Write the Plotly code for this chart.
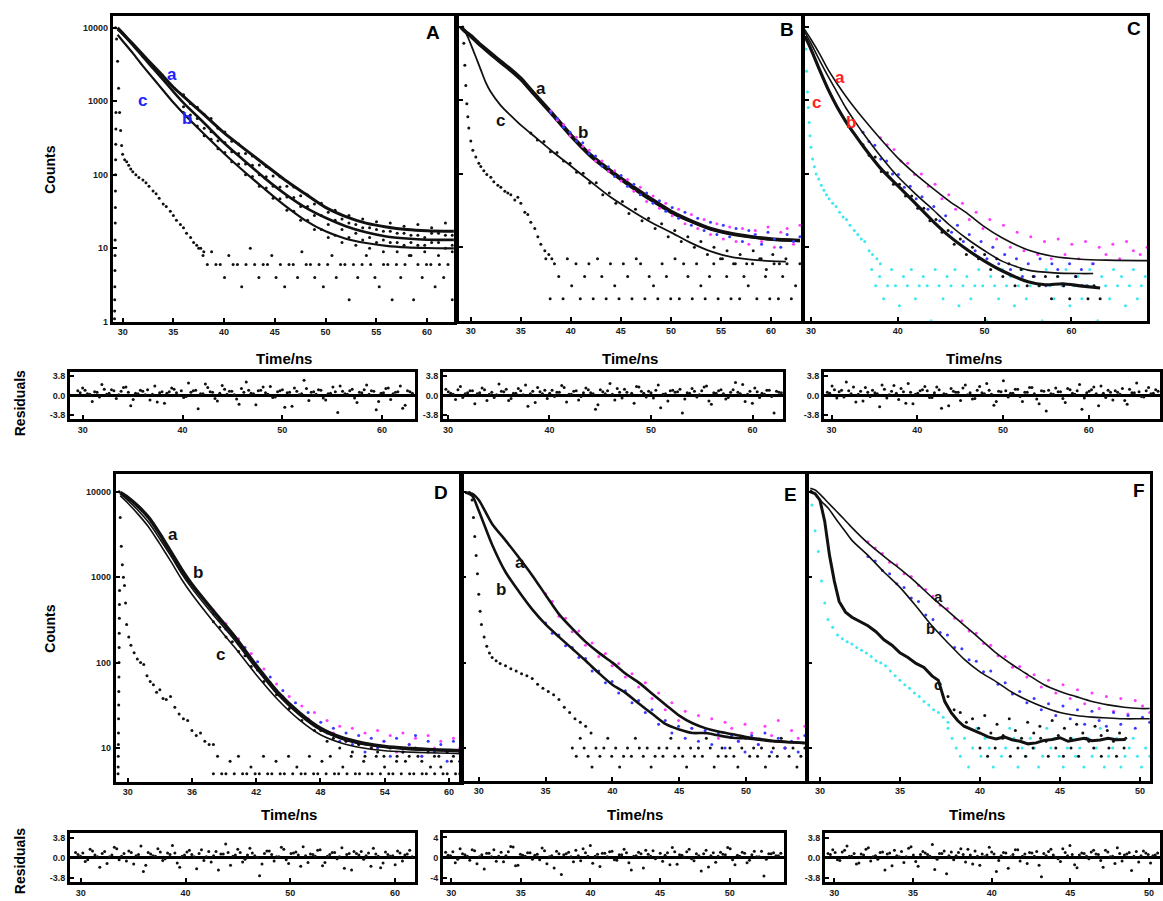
import numpy as np
import plotly.graph_objects as go

W, H = 1163, 901
FONT = "Liberation Sans, Arial, sans-serif"
MAGENTA = "#ff3cff"
BLUE = "#3a3aff"
CYAN = "#3ee8f2"
BLACK = "#111111"

# ---------------- Panel A ----------------
fitA_t = [29.5, 30, 31, 32, 33, 34, 35, 36, 38, 40, 42, 44, 46, 48, 50, 52, 54, 56, 58, 60, 62.7]
fitA_a = [10000, 8430, 6030, 4270, 3050, 2190, 1550, 1160, 660, 370, 225, 138, 85, 55, 36, 27, 22, 19.5, 18, 17.3, 17]
fitA_b = [9500, 8200, 5800, 4000, 2800, 1950, 1350, 950, 510, 270, 155, 90, 55, 36, 26, 20, 16.5, 14.5, 13.6, 13.1, 13]
fitA_c = [8000, 6600, 4500, 3000, 2050, 1400, 960, 680, 360, 195, 110, 64, 38, 24, 17, 13.5, 11.8, 10.8, 10.3, 10.1, 10]
dataA_a = [1220, 930, 830, 660, 580, 430, 380, 285, 262, 195, 180, 136, 130, 96, 94, 70, 68, 52, 53, 40,
           41, 31, 33, 25, 28, 21, 25, 19, 23, 17, 22, 16, 20, 15, 21, 14, 19, 16, 22, 15]
dataA_b = [840, 650, 580, 430, 385, 290, 275, 205, 195, 140, 135, 100, 94, 70, 68, 50, 49, 37, 37, 28,
           28, 21, 24, 18, 22, 16, 19, 14, 18, 13, 17, 12, 16, 12, 15, 11, 16, 12, 15, 11]
dataA_c = [700, 520, 460, 340, 305, 225, 200, 150, 140, 100, 95, 70, 66, 48, 47, 33, 32, 24, 24, 18,
           18, 14, 15, 12, 14, 11, 13, 10, 12, 9, 12, 9, 11, 8, 11, 9, 12, 8, 10, 9]
irfA_t = [29.3, 29.4, 29.5, 29.6, 29.7, 29.8, 29.9, 30.0, 30.2, 30.4, 30.6, 30.8, 31.0, 31.3, 31.6, 32.0, 32.3,
          32.6, 33.0, 33.3, 33.6, 34.0, 34.3, 34.7, 35.0, 35.3, 35.7, 36.0, 36.3, 36.7, 37.0, 37.3, 37.7, 38.0]
irfA_c = [10000, 7000, 3500, 1500, 700, 400, 250, 190, 160, 150, 135, 120, 110, 100, 92, 85, 78,
          70, 60, 55, 48, 40, 37, 32, 28, 24, 21, 19, 16, 14, 12, 11, 10, 9]
edgeA_t = [29.20, 29.21, 29.22, 29.23, 29.24, 29.25, 29.26, 29.27, 29.28, 29.29, 29.30, 29.31, 29.32, 29.33, 29.34]
edgeA_c = [1.1, 1.4, 2, 3, 5, 8, 13, 22, 36, 60, 100, 160, 260, 420, 700]
floorA = [10, 8, 6, 9, 6, 6, 4, 8, 6, 6, 3, 6, 10, 6, 4, 6, 6, 8, 4, 6, 3, 6, 6, 4, 9, 6, 6, 4, 6, 3,
          6, 8, 4, 6, 6, 2, 6, 4, 6, 8, 6, 4, 3, 6, 6, 2, 6, 4, 6, 8, 2, 6, 4, 6, 6, 3, 6, 4, 6, 2]
resA = [0.9, 1.4, 0.3, -1.2, 0.6, 2.1, 0.2, 1.1, -0.6, 0.8, 1.6, -2.0, 0.4, 1.0, 0.1, -0.9, 1.8, 0.5, -1.5, 0.7,
        1.2, 0.0, -0.4, 2.4, 0.9, -2.6, 0.3, 1.5, 0.6, -1.1, 1.9, 0.2, 0.8, -0.7, 1.3, 2.6, 0.4, -1.8, 1.0, 0.5,
        1.7, -0.3, 0.9, -2.3, 0.6, 1.4, 0.1, 2.9, -1.0, 0.7, 1.1, -0.5, 0.3, 1.6, -3.3, 0.8, 0.2, 1.2, -1.4, 0.5,
        2.0, 0.9, -2.8, 0.4, 1.3, -0.8, 0.6, 1.8, -1.9, 0.7]
resA2 = [0.5, 1.0, 0.2, 0.7, -0.3, 1.2, 0.4, 0.9, 0.1, 1.5, 0.6, -0.8, 0.3, 0.8, 1.1, 0.2, -1.3, 0.7, 0.4, 1.4,
         0.5, 0.9, -0.2, 0.6, 1.0, 0.3, 2.2, 0.7, -0.6, 0.4, 1.2, 0.8, 0.1, -1.7, 0.6, 1.0, 0.3, 0.9, 1.6, 0.2,
         -0.4, 0.7, 1.1, 0.5, -2.1, 0.8, 0.3, 1.3, 0.6, 0.2, 1.0, -0.9, 0.4, 0.7, 1.8, 0.3, 0.9, -0.5, 0.6, 1.1,
         0.2, 0.8, -1.2, 0.5, 1.4, 0.3, 0.7, -2.5, 0.9, 0.4]

# ---------------- Panel B ----------------
fitB_t = [29.0, 29.5, 30, 31, 32, 33, 34, 35, 36, 38, 40, 42, 44, 46, 48, 50, 52, 54, 56, 58, 60, 62.9]
fitB_a = [10000, 8600, 7600, 5700, 4400, 3400, 2650, 2000, 1400, 700, 340, 180, 110, 70, 46, 31, 23, 18, 15.5, 14, 13, 12.4]
fitB_b = [9800, 8400, 7400, 5500, 4200, 3250, 2530, 1910, 1340, 670, 325, 172, 105, 67, 44, 30, 22.5, 17.6, 15.2, 13.8, 12.9, 12.3]
fitB_c_t = [29.0, 29.5, 30, 30.5, 31, 31.5, 32, 33, 34, 35, 36, 38, 40, 42, 44, 46, 48, 50, 52, 54, 56, 58, 60, 61.5]
fitB_c = [10000, 8300, 5800, 3900, 2600, 1750, 1300, 850, 620, 460, 355, 210, 128, 78, 48, 32, 22, 16, 11.5, 8.8, 7.4, 6.8, 6.5, 6.4]
dataB_a = [720, 540, 470, 330, 315, 235, 210, 150, 150, 108, 110, 80, 84, 58, 66, 42, 50, 34, 40, 27,
           33, 21, 28, 18, 24, 15, 21, 13, 19, 12, 18, 11, 17, 12, 19, 10, 16, 18, 11, 20]
dataB_b = [680, 570, 430, 370, 280, 265, 190, 175, 128, 125, 92, 95, 68, 72, 52, 55, 40, 43, 31, 35,
           25, 30, 20, 25, 17, 22, 15, 20, 14, 18, 12, 17, 15, 11, 16, 13, 10, 15, 12, 14]
dataB_c = [360, 290, 275, 200, 195, 150, 140, 105, 102, 75, 76, 52, 55, 40, 42, 29, 33, 23, 25, 18,
           21, 14, 17, 12, 14, 10, 12, 8, 10, 7, 9, 6, 8, 6, 9, 7, 5, 8, 6, 7]
irfB_t = [29.2, 29.3, 29.4, 29.5, 29.6, 29.7, 29.8, 30.0, 30.2, 30.5, 30.8, 31.0, 31.3, 31.6, 32.0, 32.3, 32.7,
          33.0, 33.4, 33.7, 34.0, 34.4, 34.7, 35.0, 35.4, 35.7, 36.0, 36.4, 36.7, 37.0, 37.4, 37.8, 38.1]
irfB_c = [10000, 6000, 3000, 1600, 900, 600, 420, 280, 210, 170, 140, 126, 110, 98, 90, 78, 70,
          66, 58, 55, 52, 44, 48, 40, 30, 28, 22, 18, 14, 11, 9, 8, 7]
floorB = [7, 2, 6, 4, 2, 7, 3, 6, 2, 4, 6, 2, 7, 4, 2, 6, 3, 2, 6, 4, 2, 7, 6, 2, 4, 3, 2, 6, 4, 2,
          7, 2, 6, 4, 2, 6, 3, 2, 4, 6, 2, 7, 4, 2, 6, 2, 4, 3, 6, 2, 7, 4, 2, 6, 2, 4, 6, 2, 3, 6]
resB = [1.2, 0.4, -0.8, 1.7, 0.3, 0.9, -1.6, 0.5, 1.1, 0.2, -0.4, 2.2, 0.7, -1.0, 0.4, 1.3, 0.1, -2.1, 0.8, 1.5,
        0.3, -0.6, 1.0, 0.6, 1.9, -1.3, 0.2, 0.9, -0.2, 1.4, 0.5, -2.7, 1.1, 0.3, 2.3, -0.9, 0.6, 1.2, 0.0, -1.5,
        1.6, 0.4, 0.8, -0.5, 2.0, 0.2, -1.1, 1.0, 0.7, -3.4, 0.5, 1.3, -0.3, 0.9, 1.8, -1.7, 0.4, 1.1, -0.7, 0.6,
        2.5, 0.3, -1.2, 0.8, 1.4, -0.4, 0.2, 1.0, -3.4, 0.6]
resB2 = [0.7, 0.2, 1.1, -0.4, 0.5, 0.9, 0.3, 1.4, -1.0, 0.6, 0.1, 0.8, 1.2, -0.6, 0.4, 0.9, 2.0, 0.3, -1.4, 0.7,
         1.0, 0.4, -0.2, 0.6, 1.5, 0.2, 0.8, -0.9, 0.5, 1.1, 0.3, -1.8, 0.7, 0.9, 0.2, 1.3, -0.5, 0.6, 0.4, 1.7,
         0.8, -0.3, 0.5, 1.0, -2.4, 0.3, 0.9, 0.6, 1.2, -0.7, 0.4, 0.8, 0.1, 1.6, -1.1, 0.5, 0.9, 0.3, -0.4, 1.1,
         0.6, 2.1, 0.2, -1.5, 0.7, 0.4, 1.0, -0.2, 0.8, 0.5]

# ---------------- Panel C ----------------
fitC_t = [29.3, 30, 31, 32, 33, 34, 35, 36, 38, 40, 42, 44, 46, 48, 50, 52, 55, 58, 61, 64, 68.7]
fitC_a = [9100, 6800, 4300, 2600, 1700, 1150, 800, 570, 300, 165, 100, 64, 42, 29, 19, 13.5, 9.2, 7.5, 6.9, 6.7, 6.6]
fitC_b_t = [29.3, 30, 31, 32, 33, 34, 35, 36, 38, 40, 42, 44, 46, 48, 50, 52, 55, 58, 61, 62.5]
fitC_b = [8500, 6000, 3500, 2100, 1300, 800, 530, 360, 175, 92, 54, 33, 20, 13, 9, 6.5, 4.9, 4.5, 4.4, 4.4]
fitC_c_t = [29.3, 30, 31, 32, 33, 34, 35, 36, 38, 40, 42, 44, 46, 48, 50, 52, 55, 57, 59, 61, 63.3]
fitC_c = [7500, 5000, 2600, 1400, 820, 520, 350, 240, 120, 69, 40, 23, 14, 9.3, 6.5, 4.8, 3.4, 3.1, 3.2, 3.0, 2.8]
dataC_a = [310, 250, 215, 150, 140, 98, 100, 68, 72, 46, 52, 33, 40, 24, 30, 18, 24, 13, 20, 10,
           16, 9, 14, 8, 12, 7, 13, 8, 11, 7, 12, 6, 10, 8, 11, 7, 12, 9, 8, 10]
dataC_b = [370, 275, 245, 160, 150, 100, 98, 66, 68, 46, 49, 33, 36, 23, 27, 16, 20, 12, 15, 9,
           12, 7, 10, 6, 8, 5, 7, 4, 6, 4, 7, 3, 6, 5, 3, 6, 4, 5, 3, 6]
dataC_c = [250, 180, 170, 108, 104, 72, 72, 50, 50, 34, 34, 23, 24, 16, 17, 11, 13, 8, 10, 7,
           8, 5, 7, 4, 6, 3, 5, 3, 4, 3, 4, 2, 4, 3, 2, 4, 3, 2, 3, 2]
irfC_t = [29.3, 29.4, 29.5, 29.6, 29.7, 29.8, 29.9, 30.0, 30.2, 30.4, 30.6, 30.9, 31.2, 31.5, 31.8,
          32.1, 32.5, 32.9, 33.3, 33.7, 34.1, 34.5, 35.0, 35.4, 35.8, 36.2, 36.7, 37.1, 37.6, 38.0]
irfC_c = [9000, 5000, 2500, 1300, 800, 500, 330, 230, 160, 125, 100, 85, 70, 60, 52,
          46, 40, 36, 30, 26, 24, 20, 17, 15, 13, 12, 9, 8, 7, 6]
floorC = [5, 3, 4, 2, 3, 5, 3, 1.6, 4, 3, 5, 2, 3, 4, 3, 1, 5, 3, 2, 4, 3, 5, 1.6, 3, 4, 2, 3, 5, 3, 1,
          4, 3, 2, 5, 3, 4, 1.6, 3, 5, 2, 3, 4, 3, 1, 5, 3, 2, 4, 3, 5, 1.6, 3, 4, 2, 3, 5, 3, 1, 4, 3,
          2, 5, 3, 4, 1.6, 3, 5, 2, 3, 4]
resC = [0.6, 1.8, -0.5, 1.0, 2.6, 0.3, -1.3, 0.8, 1.5, -0.2, 0.5, -2.2, 1.2, 0.1, 1.9, -0.8, 0.7, 2.3, -1.6, 0.4,
        1.1, 0.9, -0.4, 1.6, -2.5, 0.2, 1.3, 0.6, -1.0, 2.0, 0.5, -0.6, 1.7, 0.3, 1.0, -1.9, 0.8, 2.8, -0.3, 0.4,
        1.2, -1.2, 0.6, 1.5, -0.7, 0.9, -3.0, 0.3, 1.4, 0.7, -1.4, 1.1, 0.2, 2.1, -0.5, 0.8, 1.6, -2.0, 0.4, 1.0,
        -0.9, 0.6, 1.3, -1.7, 0.5, 2.4, -0.2, 0.9, 0.3, 1.1]
resC2 = [0.4, 1.1, 0.7, -0.3, 0.9, 1.6, 0.2, -1.1, 0.6, 1.0, 0.3, 2.0, -0.5, 0.8, 0.4, 1.3, -1.5, 0.6, 0.2, 0.9,
         1.7, -0.4, 0.5, 1.1, 0.3, -2.0, 0.8, 0.6, 1.4, 0.1, -0.7, 1.0, 0.5, 2.3, 0.2, -1.2, 0.7, 0.9, 0.4, 1.2,
         -0.2, 0.6, 1.5, 0.3, -1.6, 0.8, 1.0, 0.2, 0.7, -0.6, 1.3, 0.4, 0.9, -2.7, 0.5, 1.1, 0.3, 1.8, -0.4, 0.6,
         0.9, 0.2, -1.0, 1.2, 0.5, 0.7, -0.3, 1.5, 0.4, 0.8]

# ---------------- Panel D ----------------
fitD_t = [29.3, 30, 31, 32, 33, 34, 35, 36, 38, 40, 42, 44, 46, 48, 50, 52, 54, 56, 58, 60, 61.1]
fitD_a = [9800, 8600, 6700, 4900, 3200, 2000, 1250, 820, 400, 200, 92, 45, 26, 17, 13.2, 11.4, 10.4, 9.9, 9.6, 9.4, 9.3]
fitD_b = [9500, 8000, 6000, 4300, 2800, 1800, 1120, 740, 360, 182, 85, 42, 24.5, 16.2, 12.7, 11, 10.2, 9.7, 9.5, 9.3, 9.2]
fitD_c = [9000, 7400, 5400, 3800, 2450, 1550, 960, 630, 300, 150, 72, 37, 21.5, 14.3, 11.4, 10, 9.3, 9.0, 8.8, 8.7, 8.6]
dataD_a = [410, 320, 285, 210, 190, 138, 128, 88, 84, 58, 56, 40, 40, 28, 31, 22, 26, 17, 21, 15,
           18, 12, 17, 11, 15, 10, 16, 12, 14, 9, 15, 11, 13, 8, 14, 10, 12, 9, 13, 10]
dataD_b = [370, 310, 245, 215, 165, 150, 108, 102, 70, 68, 47, 47, 33, 34, 24, 26, 19, 20, 15, 17,
           12, 15, 11, 14, 9, 13, 10, 12, 8, 13, 9, 11, 14, 8, 12, 9, 11, 7, 12, 9]
dataD_c = [300, 260, 200, 175, 135, 120, 90, 82, 60, 56, 42, 39, 29, 28, 21, 21, 16, 16, 12, 13,
           10, 12, 9, 11, 8, 10, 9, 8, 10, 7, 9, 8, 10, 7, 9, 8, 6, 9, 8, 7]
irfD_t = [29.2, 29.3, 29.4, 29.5, 29.6, 29.7, 29.8, 29.9, 30.1, 30.3, 30.6, 30.9, 31.2, 31.5, 31.8, 32.1,
          32.4, 32.7, 33.0, 33.3, 33.6, 34.0, 34.4, 34.8, 35.2, 35.6, 36.0, 36.4, 36.8, 37.2, 37.6, 38.0]
irfD_c = [10000, 5000, 2300, 1400, 1000, 800, 500, 280, 200, 160, 130, 110, 100, 95, 70, 60,
          55, 45, 48, 38, 37, 40, 30, 25, 22, 21, 16, 14, 15, 12, 11, 11]
edgeD_t = [29.10, 29.11, 29.12, 29.13, 29.14, 29.15, 29.16, 29.17, 29.18, 29.19, 29.20, 29.21, 29.22, 29.23, 29.24]
edgeD_c = [5, 6, 8, 11, 15, 22, 32, 46, 68, 100, 150, 220, 330, 480, 700]
floorD = [5, 8, 5, 5, 7, 5, 8, 5, 5, 6, 5, 5, 8, 5, 5, 7, 5, 5, 8, 5, 6, 5, 5, 8, 5, 5, 7, 5, 8, 5,
          5, 6, 5, 8, 5, 5, 7, 5, 5, 8, 5, 6, 5, 5, 8, 5, 7, 5, 5, 8, 5, 5, 6, 5, 8, 5, 5, 7, 5, 5]
resD = [1.0, 0.3, -0.7, 1.6, 0.5, -1.8, 1.2, 0.2, 2.0, -0.4, 0.8, 1.3, -1.2, 0.6, -2.6, 1.0, 0.4, 1.7, -0.5, 0.9,
        2.3, -1.0, 0.3, 1.1, 0.6, -2.1, 1.5, 0.2, -0.8, 1.2, 0.7, 2.6, -1.4, 0.5, 1.0, -0.3, 1.8, 0.4, -3.4, 0.8,
        1.3, -0.6, 0.2, 1.6, -1.1, 0.9, 0.5, 2.1, -0.9, 0.6, 1.4, -1.5, 0.3, 1.0, -0.2, 1.9, 0.6, -2.3, 0.8, 1.2,
        0.4, -1.6, 0.7, -1.9, 1.1, 0.3, -1.3, 0.9, 0.5, 1.4]
resD2 = [0.6, 0.9, -0.4, 1.3, 0.2, 0.8, -1.1, 0.5, 1.7, 0.3, -0.6, 1.0, 0.4, 2.2, -1.4, 0.7, 0.3, 1.1, -0.2, 0.6,
         0.9, -1.8, 0.5, 1.4, 0.2, 0.8, -0.5, 1.2, 0.4, -2.3, 0.7, 1.0, 0.3, 1.6, -0.8, 0.5, 0.9, 0.1, -1.2, 1.3,
         0.6, 0.2, 2.0, -0.4, 0.8, 1.1, -1.6, 0.4, 0.7, 0.3, 1.5, -0.9, 0.6, 1.0, 0.2, -2.0, 0.8, 1.2, 0.5, -0.3,
         0.9, 1.8, 0.3, -1.0, 0.6, 0.4, 1.3, -0.6, 0.7, 0.2]

# ---------------- Panel E ----------------
fitE_t = [29.0, 29.5, 30, 31, 32, 33, 34, 35, 36, 37, 38, 39, 40, 41, 42, 43, 44, 45, 46, 47, 48, 49, 50, 51, 52, 54.4]
fitE_a = [9800, 9500, 8000, 4200, 2700, 1700, 1050, 620, 370, 250, 175, 130, 100, 74, 58, 43, 32, 24, 19.5, 17,
          15.5, 14.5, 13.5, 12.8, 12.2, 11.5]
fitE_b = [9800, 9000, 6000, 2400, 1150, 680, 420, 280, 200, 145, 105, 75, 55, 44, 33, 25, 19, 16.5, 15, 15,
          14, 13.2, 13, 12.5, 12, 11.4]
dataE_a = [640, 520, 350, 330, 230, 235, 160, 170, 118, 128, 92, 98, 68, 74, 52, 58, 38, 44, 28, 34,
           21, 27, 17, 24, 15, 22, 13, 20, 17, 12, 19, 15, 11, 18, 14, 21, 10, 16, 13, 18]
dataE_b = [290, 220, 210, 158, 150, 115, 112, 80, 80, 58, 60, 44, 47, 34, 36, 26, 28, 19, 21, 15,
           18, 13, 17, 12, 16, 11, 15, 10, 14, 12, 9, 14, 11, 15, 9, 13, 10, 12, 9, 14]
irfE_t = [29.3, 29.5, 29.6, 29.7, 29.8, 29.9, 30.0, 30.1, 30.2, 30.4, 30.6, 30.8, 31.0, 31.3, 31.6, 32.0,
          32.4, 32.8, 33.2, 33.6, 34.0, 34.4, 34.8, 35.2, 35.6, 36.0, 36.4, 36.8, 37.2, 37.6, 38.0, 38.4]
irfE_c = [9800, 8000, 5000, 3000, 1800, 1100, 630, 400, 280, 200, 155, 130, 115, 105, 98, 92,
          85, 80, 74, 70, 65, 56, 50, 46, 42, 37, 30, 26, 22, 20, 18, 15]
floorE = [10, 8, 13, 10, 8, 6, 10, 8, 10, 13, 8, 10, 6, 8, 10, 8, 13, 10, 8, 10, 6, 8, 10, 8, 10, 13, 8, 10, 8, 6,
          10, 8, 10, 8, 13, 10, 6, 8, 10, 8, 10, 8, 6, 10, 13, 8, 10, 8, 10, 6, 8, 10, 8, 13, 10, 8, 10, 6, 8, 10]
resE = [1.1, 0.4, -1.0, 1.8, 0.6, -0.5, 1.4, 0.2, -2.2, 0.9, 1.6, 0.3, -0.8, 1.2, 2.1, -1.5, 0.5, 1.0, -0.3, 0.7,
        1.9, -1.2, 0.4, 1.3, -3.3, 0.8, 0.2, 1.5, -0.6, 1.0, 2.4, 0.3, -1.7, 0.9, 1.2, -0.4, 0.6, 1.7, -1.0, 0.3,
        1.1, -2.0, 0.7, 1.4, 0.1, -0.7, 1.0, 2.0, -1.3, 0.5, 1.2, -0.2, 0.8, -2.6, 1.5, 0.4, -0.9, 1.1, 0.6, 1.8,
        -1.4, 0.3, 0.9, -0.5, 1.3, 0.2, -3.6, 0.8, 1.0, 0.4]
resE2 = [0.5, 1.2, -0.3, 0.8, 0.3, 1.6, -1.2, 0.6, 0.9, 0.2, -0.7, 1.1, 0.4, 2.2, -1.6, 0.7, 0.3, 1.0, 0.5, -0.4,
         1.4, 0.2, -2.0, 0.8, 0.6, 1.1, -0.8, 0.4, 1.8, 0.3, -1.1, 0.7, 0.9, 0.2, 1.3, -0.5, 0.6, 1.0, -2.4, 0.4,
         0.8, 1.5, 0.3, -0.2, 0.9, 0.5, -1.4, 1.2, 0.6, 0.1, 1.7, -0.6, 0.4, 0.8, -1.8, 1.0, 0.3, 0.7, 2.0, -0.4,
         0.5, 1.1, -1.0, 0.6, 0.2, 1.3, -0.3, 0.8, 0.4, 0.9]

# ---------------- Panel F ----------------
fitF_t = [29.4, 29.7, 30, 30.5, 31, 31.5, 32, 33, 34, 35, 36, 37, 38, 39, 40, 41, 42, 43, 44, 45, 46, 47, 48, 49, 50, 50.6]
fitF_a = [11000, 10500, 9400, 7500, 6000, 4800, 3800, 2500, 1750, 1250, 870, 580, 400, 275, 190, 130, 95, 72, 55, 46,
          40, 35, 32, 30, 29, 29]
fitF_b = [10500, 9300, 8000, 6500, 4800, 3600, 2700, 1800, 1150, 760, 460, 270, 170, 110, 78, 60, 45, 36, 30, 26,
          24, 23, 22.5, 22, 22, 22]
fitF_c_t = [29.4, 29.7, 30.0, 30.3, 30.6, 30.9, 31.2, 31.6, 32.0, 32.5, 33.0, 33.5, 34.0, 34.5, 35.0, 35.5, 36.0,
            36.5, 37.0, 37.4, 37.8, 38.2, 38.6, 39.0, 39.5, 40.0, 40.5, 41.0, 41.5, 42.0, 42.5, 43.0, 43.5, 44.0,
            44.5, 45.0, 45.5, 46.0, 46.5, 47.0, 47.5, 48.0, 48.5, 49.1]
fitF_c = [10000, 9500, 8000, 4500, 1800, 900, 520, 390, 340, 300, 270, 230, 185, 160, 130, 115, 98,
          88, 70, 62, 35, 26, 21, 18, 16.5, 15, 13.5, 12.8, 13.5, 12.5, 12, 11.2, 11.5, 12.3,
          12.6, 13.2, 12, 12.5, 13, 12.2, 12.4, 13, 12.5, 12.6]
dataF_a = [2600, 2200, 1900, 1500, 1400, 1100, 1020, 800, 720, 600, 470, 430, 330, 310, 235, 220, 168, 160, 120, 118,
           88, 90, 68, 72, 52, 62, 44, 55, 38, 48, 33, 44, 29, 40, 27, 38, 25, 36, 31, 26]
dataF_b = [1750, 1550, 1200, 1100, 840, 760, 570, 520, 360, 320, 225, 210, 150, 145, 108, 104, 78, 80, 56, 58,
           43, 46, 34, 38, 28, 33, 24, 31, 22, 28, 19, 27, 21, 18, 26, 19, 24, 17, 23, 20]
dataF_c = [40, 28, 26, 20, 22, 17, 24, 15, 19, 14, 22, 16, 13, 20, 15, 18, 12, 21, 14, 17,
           13, 19, 15, 12, 18, 14, 16, 12, 15, 13]
irfF_t = [29.5, 29.7, 29.9, 30.1, 30.3, 30.5, 30.8, 31.1, 31.4, 31.7, 32.0, 32.3, 32.6, 32.9, 33.2, 33.5,
          33.8, 34.1, 34.4, 34.7, 35.0, 35.3, 35.6, 35.9, 36.2, 36.5, 36.8, 37.1, 37.4, 37.7, 38.0]
irfF_c = [7000, 3500, 2000, 900, 500, 320, 260, 210, 190, 175, 165, 150, 140, 130, 118, 105,
          100, 92, 80, 70, 62, 55, 50, 44, 40, 35, 32, 28, 26, 23, 20]
floorF = [17, 13, 10, 8, 13, 6, 10, 17, 8, 13, 10, 6, 13, 8, 10, 17, 13, 6, 10, 8, 13, 10, 6, 8, 17,
          10, 13, 8, 6, 10, 13, 8, 10, 6, 13, 8, 10, 17, 6, 8, 10, 13, 6, 8, 10, 13, 8, 6, 10, 8]
floorF_k = [10, 8, 10, 13, 8, 10, 8, 10, 13, 8, 10, 8, 10, 8, 13, 10, 8, 10, 8, 10]
resF = [0.8, 1.5, -0.4, 1.1, 2.2, 0.3, -1.2, 0.7, 1.6, -0.6, 0.4, 1.0, -2.3, 0.9, 1.4, 0.2, -0.9, 1.8, 0.5, -1.6,
        1.2, 0.6, 2.5, -0.3, 0.8, -3.0, 1.1, 0.4, 1.7, -0.8, 0.5, 1.3, -1.4, 0.2, 2.0, 0.7, -0.5, 1.0, -2.0, 0.6,
        1.5, 0.3, -1.1, 0.9, 1.2, -3.6, 0.4, 1.6, 0.1, -0.7, 1.0, 2.3, -1.3, 0.5, 0.8, -0.2, 1.4, 0.6, -1.8, 1.1,
        0.3, 1.9, -0.6, 0.7, -2.4, 1.2, 0.4, 0.9, -1.0, 0.5]
resF2 = [0.6, 1.0, -0.5, 1.4, 0.3, 0.8, -1.0, 0.5, 1.9, 0.2, -0.3, 1.1, 0.7, -1.5, 0.4, 1.2, 0.2, 2.1, -0.7, 0.6,
         0.9, 0.3, -2.2, 0.8, 1.3, 0.4, -0.4, 1.0, 0.6, 1.6, -1.2, 0.3, 0.7, 0.5, 1.1, -2.6, 0.4, 0.9, 0.2, 1.5,
         -0.6, 0.7, 1.0, 0.3, -1.4, 0.8, 1.2, 0.5, -0.2, 1.7, 0.4, 0.6, -1.9, 0.9, 0.3, 1.1, 0.7, -0.5, 1.4, 0.2,
         -1.1, 0.8, 0.5, 1.0, 0.3, -0.8, 1.3, 0.6, 0.4, 0.9]

# ---------------- Tick labels ----------------
ticks_5 = [30, 35, 40, 45, 50, 55, 60]
ticks_10 = [30, 40, 50, 60]
ticks_6 = [30, 36, 42, 48, 54, 60]
ticks_short = [30, 35, 40, 45, 50]
count_ticks = [1, 10, 100, 1000, 10000]

fig = go.Figure()


def ref(i):
    return ("x" if i == 1 else f"x{i}", "y" if i == 1 else f"y{i}")


def channels(t0, t1, values):
    """Evenly spaced TCSPC channel times for a list of counts."""
    return np.linspace(t0, t1, len(values))


def dots(i, t, c, color=BLACK, size=3):
    xr, yr = ref(i)
    fig.add_trace(go.Scatter(x=t, y=c, mode="markers", xaxis=xr, yaxis=yr, hoverinfo="skip",
                             marker=dict(size=size, color=color, line=dict(width=0))))


def curve(i, t, c, width, shape="spline"):
    xr, yr = ref(i)
    fig.add_trace(go.Scatter(x=t, y=c, mode="lines", xaxis=xr, yaxis=yr, hoverinfo="skip",
                             line=dict(color=BLACK, width=width, shape=shape, smoothing=0.7)))


def residuals(i, t0, t1, first, second):
    """Two interleaved residual sweeps on the same channel grid."""
    t = channels(t0, t1, first)
    step = t[1] - t[0]
    dots(i, t, first)
    dots(i, channels(t0 + step / 2, t1 + step / 2, second), second)


tick_font = dict(family=FONT, size=9, color="#1a1a1a", weight="bold")


def frame(i, left, right, top, bottom, xrange, yrange, xticks, log=True, yticks=None,
          ytext=None, ylabels=True, zero=False):
    xr, yr = ref(i)
    xa = dict(domain=[left / W, right / W], range=xrange, anchor=yr, showline=True, mirror=True,
              linewidth=2.6, linecolor="black", ticks="inside", ticklen=4, tickwidth=1.5,
              tickcolor="black", showgrid=False, zeroline=False, tickvals=xticks,
              ticktext=[str(v) for v in xticks], tickfont=tick_font)
    ya = dict(domain=[1 - bottom / H, 1 - top / H], range=yrange, anchor=xr, showline=True,
              mirror=True, linewidth=2.6, linecolor="black", ticks="inside", ticklen=4,
              tickwidth=1.5, tickcolor="black", showgrid=False, tickfont=tick_font,
              showticklabels=ylabels, type="log" if log else "linear",
              zeroline=zero, zerolinecolor="black", zerolinewidth=2.6)
    if yticks is not None:
        ya["tickvals"] = yticks
        ya["ticktext"] = ytext
    key = "" if i == 1 else str(i)
    fig.update_layout(**{f"xaxis{key}": xa, f"yaxis{key}": ya})


count_text = [str(v) for v in count_ticks]
res_ticks = [-3.8, 0, 3.8]
res_text = ["-3.8", "0.0", "3.8"]

# Main decay panels
frame(1, 113, 455, 15, 323, [29.02, 62.65], [0, 4.16], ticks_5, yticks=count_ticks, ytext=count_text)
frame(2, 460, 803, 15, 322, [28.8, 63.0], [0, 4.15], ticks_5, yticks=count_ticks, ytext=count_text, ylabels=False)
frame(3, 807, 1150, 15, 322, [29.31, 68.7], [0, 4.15], ticks_10, yticks=count_ticks, ytext=count_text, ylabels=False)
frame(4, 116, 462, 476, 786, [28.88, 61.1], [0.605, 4.21], ticks_6, yticks=count_ticks, ytext=count_text)
frame(5, 463, 808, 476, 785, [28.73, 54.48], [0.617, 4.21], ticks_short, yticks=count_ticks, ytext=count_text, ylabels=False)
frame(6, 810, 1153, 476, 785, [29.25, 50.62], [0.617, 4.21], ticks_short, yticks=count_ticks, ytext=count_text, ylabels=False)

# Residual strips
frame(7, 70, 416, 373, 421, [28.7, 63.3], [-4.6, 4.6], ticks_10, log=False, yticks=res_ticks, ytext=res_text, zero=True)
frame(8, 444, 785, 373, 421, [29.5, 63.0], [-4.6, 4.6], ticks_10, log=False, yticks=res_ticks, ytext=res_text, zero=True)
frame(9, 826, 1163, 373, 421, [29.1, 68.3], [-4.6, 4.6], ticks_10, log=False, yticks=res_ticks, ytext=res_text, zero=True)
frame(10, 70, 416, 838, 887, [28.95, 61.9], [-4.6, 4.6], ticks_10, log=False, yticks=res_ticks, ytext=res_text, zero=True)
frame(11, 444, 786, 838, 887, [29.4, 53.9], [-4.8, 4.8], ticks_short, log=False, yticks=[-4, 0, 4], ytext=["-4", "0", "4"], zero=True)
frame(12, 827, 1163, 838, 887, [29.4, 50.7], [-4.6, 4.6], ticks_short, log=False, yticks=res_ticks, ytext=res_text, zero=True)

# ---- A ----
dots(1, edgeA_t, edgeA_c)
dots(1, irfA_t, irfA_c)
dots(1, channels(37.5, 62.5, floorA), floorA)
dots(1, channels(36, 62.5, dataA_a), dataA_a)
dots(1, channels(36, 62.5, dataA_b), dataA_b)
dots(1, channels(36, 62.5, dataA_c), dataA_c)
curve(1, fitA_t, fitA_a, 3)
curve(1, fitA_t, fitA_b, 2.6)
curve(1, fitA_t, fitA_c, 2.2)

# ---- B ----
dots(2, irfB_t, irfB_c)
dots(2, channels(37.5, 62.9, floorB), floorB)
dots(2, channels(36, 61.5, dataB_c), dataB_c)
curve(2, fitB_c_t, fitB_c, 1.8)
curve(2, fitB_t, fitB_b, 3)
curve(2, fitB_t, fitB_a, 3.5)
dots(2, channels(38, 62.9, dataB_a), dataB_a, MAGENTA)
dots(2, channels(38, 62.9, dataB_b), dataB_b, BLUE)

# ---- C ----
dots(3, irfC_t, irfC_c, CYAN)
dots(3, channels(37, 68.5, floorC), floorC, CYAN)
dots(3, channels(38, 68.7, dataC_a), dataC_a, MAGENTA)
dots(3, channels(36, 62.5, dataC_b), dataC_b, BLUE)
dots(3, channels(36, 63.3, dataC_c), dataC_c)
curve(3, fitC_t, fitC_a, 1.6)
curve(3, fitC_b_t, fitC_b, 1.6)
curve(3, fitC_c_t, fitC_c, 3.2)

# ---- D ----
dots(4, edgeD_t, edgeD_c)
dots(4, irfD_t, irfD_c)
dots(4, channels(38, 61, floorD), floorD)
dots(4, channels(38, 61, dataD_a), dataD_a, MAGENTA)
dots(4, channels(38, 61, dataD_b), dataD_b, BLUE)
dots(4, channels(38, 61, dataD_c), dataD_c)
curve(4, fitD_t, fitD_c, 1.6)
curve(4, fitD_t, fitD_b, 1.6)
curve(4, fitD_t, fitD_a, 3.6)

# ---- E ----
dots(5, irfE_t, irfE_c)
dots(5, channels(37, 54.4, floorE), floorE)
dots(5, channels(35, 54.4, dataE_a), dataE_a, MAGENTA)
dots(5, channels(35, 54.4, dataE_b), dataE_b, BLUE)
curve(5, fitE_t, fitE_a, 2.6)
curve(5, fitE_t, fitE_b, 2.6)

# ---- F ----
dots(6, irfF_t, irfF_c, CYAN)
dots(6, channels(38, 50.6, floorF), floorF, CYAN)
dots(6, channels(40, 49, floorF_k), floorF_k)
dots(6, channels(33, 50.6, dataF_a), dataF_a, MAGENTA)
dots(6, channels(33, 50.6, dataF_b), dataF_b, BLUE)
dots(6, channels(38, 49.1, dataF_c), dataF_c)
curve(6, fitF_t, fitF_a, 1.6)
curve(6, fitF_t, fitF_b, 1.6)
curve(6, fitF_c_t, fitF_c, 3, shape="linear")

# ---- Residuals ----
residuals(7, 29.5, 62.8, resA, resA2)
residuals(8, 29.8, 62.6, resB, resB2)
residuals(9, 29.5, 67.8, resC, resC2)
residuals(10, 29.5, 61.4, resD, resD2)
residuals(11, 29.6, 53.5, resE, resE2)
residuals(12, 29.6, 50.4, resF, resF2)

# ---------------- Annotations ----------------
ann = []


def paper_text(text, px, py, size, angle=0):
    ann.append(dict(text=text, x=px / W, y=1 - py / H, xref="paper", yref="paper", showarrow=False,
                    xanchor="center", yanchor="middle", textangle=angle,
                    font=dict(family=FONT, size=size, color="black", weight="bold")))


def data_text(i, text, t, logc, color, size=17):
    xr, yr = ref(i)
    ann.append(dict(text=text, x=t, y=logc, xref=xr, yref=yr, showarrow=False,
                    xanchor="center", yanchor="middle",
                    font=dict(family=FONT, size=size, color=color, weight="bold")))


# Panel letters
for letter, px, py in [("A", 434, 32), ("B", 789, 29), ("C", 1137, 28),
                       ("D", 442, 495), ("E", 793, 497), ("F", 1142, 493)]:
    paper_text(letter, px, py, 19)

# Axis titles
paper_text("Counts", 50, 170, 14, -90)
paper_text("Counts", 50, 632, 14, -90)
paper_text("Residuals", 20, 405, 14, -90)
paper_text("Residuals", 20, 866, 14, -90)
for px in (285, 632, 977):
    paper_text("Time/ns", px, 360, 15)
for px in (290, 637, 980):
    paper_text("Time/ns", px, 819, 15)

# Curve labels
LBL_BLUE = "#2222ff"
LBL_RED = "#ff2222"
data_text(1, "a", 34.9, 3.36, LBL_BLUE)
data_text(1, "c", 32.0, 3.01, LBL_BLUE)
data_text(1, "b", 36.3, 2.77, LBL_BLUE)
data_text(2, "a", 37.0, 3.16, BLACK)
data_text(2, "c", 33.0, 2.73, BLACK)
data_text(2, "b", 41.2, 2.57, BLACK)
data_text(3, "a", 33.4, 3.31, LBL_RED)
data_text(3, "c", 30.6, 2.97, LBL_RED)
data_text(3, "b", 34.6, 2.70, LBL_RED)
data_text(4, "a", 34.2, 3.50, BLACK)
data_text(4, "b", 36.6, 3.06, BLACK)
data_text(4, "c", 38.7, 2.09, BLACK)
data_text(5, "a", 33.1, 3.17, BLACK)
data_text(5, "b", 31.7, 2.86, BLACK)
data_text(6, "a", 37.4, 2.77, BLACK, 15)
data_text(6, "b", 36.9, 2.40, BLACK, 15)
data_text(6, "c", 37.4, 1.74, BLACK, 15)

fig.update_layout(
    width=W, height=H, margin=dict(l=0, r=0, t=0, b=0),
    paper_bgcolor="white", plot_bgcolor="white", showlegend=False,
    font=dict(family=FONT, color="black"), annotations=ann,
)

fig.write_html("out.html")
